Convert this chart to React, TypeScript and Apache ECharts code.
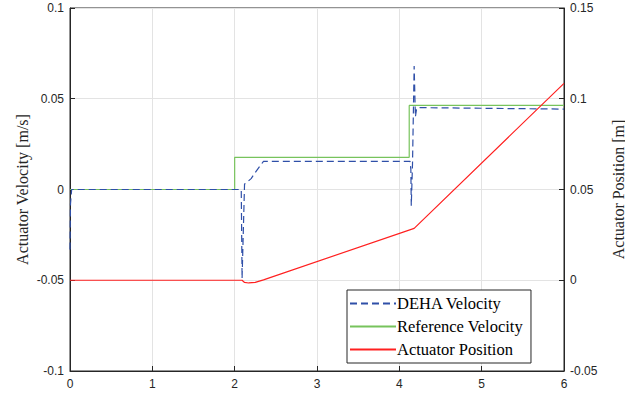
import React, { useEffect, useRef } from "react";
import * as echarts from "echarts";

// Reference velocity command [s], [m/s]
const refTime = [0, 2, 2, 4.12, 4.12, 6];
const refVel = [0, 0, 0.0177, 0.0177, 0.0463, 0.0463];

// Measured DEHA velocity [s], [m/s]
const dehaTime = [0, 0.006, 0.02, 2.08, 2.09, 2.12, 2.15, 2.2, 2.26, 2.35, 4.13, 4.14, 4.145, 4.16, 4.18, 4.195, 4.21, 4.25, 6];
const dehaVel = [-0.033, -0.008, 0, 0, -0.049, 0.003, 0.004, 0.006, 0.01, 0.0155, 0.0155, 0.011, -0.009, 0.014, 0.068, 0.04, 0.0447, 0.0451, 0.0443];

// Actuator position [s], [m]
const posTime = [0, 2.09, 2.12, 2.17, 2.25, 2.35, 4.18, 6];
const posVal = [0, 0, -0.0012, -0.0015, -0.0012, 0.0002, 0.0286, 0.1085];

const xTicks = { min: 0, max: 6, interval: 1 };
const velTicks = { min: -0.1, max: 0.1, interval: 0.05 };
const posTicks = { min: -0.05, max: 0.15, interval: 0.05 };

const zip = (a: number[], b: number[]) => a.map((v, i) => [v, b[i]]);
const fmt = (v: number) => String(parseFloat(v.toFixed(4)));

const SERIF = "'Liberation Serif'";
const SANS = "'Liberation Sans'";

const tickLabel = {
  color: "#262626",
  fontFamily: SANS,
  fontSize: 12,
};
const axisTitle = {
  color: "#262626",
  fontFamily: SERIF,
  fontSize: 16,
};

export default function App() {
  const ref = useRef<HTMLDivElement>(null);

  useEffect(() => {
    if (!ref.current) return;
    const chart = echarts.init(ref.current, null, { renderer: "svg", width: 625, height: 398 });
    chart.setOption({
      animation: false,
      backgroundColor: "#ffffff",
      grid: {
        left: 70,
        right: 61,
        top: 8,
        bottom: 27,
        containLabel: false,
        outerBoundsMode: "none",
        show: true,
        borderColor: "#262626",
        borderWidth: 1,
        backgroundColor: "transparent",
      },
      legend: {
        data: ["DEHA Velocity", "Reference Velocity", "Actuator Position"],
        orient: "vertical",
        left: 347,
        top: 290,
        itemWidth: 46,
        itemHeight: 14,
        itemGap: 6,
        padding: [5, 8, 5, 2],
        backgroundColor: "#ffffff",
        borderColor: "#262626",
        borderWidth: 1,
        borderRadius: 0,
        itemStyle: { opacity: 0 },
        textStyle: {
          color: "#000000",
          fontFamily: SERIF,
          fontSize: 16.5,
          padding: [0, 0, 0, -4],
        },
      },
      xAxis: {
        type: "value",
        ...xTicks,
        axisLine: { onZero: false, lineStyle: { color: "#262626" } },
        axisTick: { inside: true, length: 5, lineStyle: { color: "#262626" } },
        axisLabel: { ...tickLabel, margin: 7 },
        splitLine: { lineStyle: { color: "#e3e3e3" } },
      },
      yAxis: [
        {
          type: "value",
          ...velTicks,
          name: "Actuator Velocity [m/s]",
          nameLocation: "middle",
          nameGap: 40,
          nameMoveOverlap: false,
          nameTextStyle: axisTitle,
          axisLine: { show: true, onZero: false, lineStyle: { color: "#262626" } },
          axisTick: { show: true, inside: true, length: 5, lineStyle: { color: "#262626" } },
          axisLabel: { ...tickLabel, margin: 6, formatter: fmt },
          splitLine: { lineStyle: { color: "#e3e3e3" } },
        },
        {
          type: "value",
          ...posTicks,
          position: "right",
          name: "Actuator Position [m]",
          nameLocation: "middle",
          nameGap: 46,
          nameRotate: 90,
          nameTextStyle: axisTitle,
          axisLine: { show: true, onZero: false, lineStyle: { color: "#262626" } },
          axisTick: { show: true, inside: true, length: 5, lineStyle: { color: "#262626" } },
          axisLabel: { ...tickLabel, margin: 6, formatter: fmt },
          splitLine: { show: false },
        },
      ],
      series: [
        {
          name: "Reference Velocity",
          type: "line",
          yAxisIndex: 0,
          data: zip(refTime, refVel),
          showSymbol: false,
          symbol: "none",
          color: "#77c35c",
          lineStyle: { color: "#77c35c", width: 1.2 },
          z: 2,
        },
        {
          name: "DEHA Velocity",
          type: "line",
          yAxisIndex: 0,
          data: zip(dehaTime, dehaVel),
          showSymbol: false,
          symbol: "none",
          color: "#2f4fa8",
          lineStyle: { color: "#2f4fa8", width: 1.2, type: [7, 4] },
          z: 3,
        },
        {
          name: "Actuator Position",
          type: "line",
          yAxisIndex: 1,
          data: zip(posTime, posVal),
          showSymbol: false,
          symbol: "none",
          color: "#ff2020",
          lineStyle: { color: "#ff2020", width: 1.2 },
          z: 4,
        },
      ],
    });
    return () => chart.dispose();
  }, []);

  return <div ref={ref} style={{ width: 625, height: 398, position: "absolute", left: 0, top: 0 }} />;
}
